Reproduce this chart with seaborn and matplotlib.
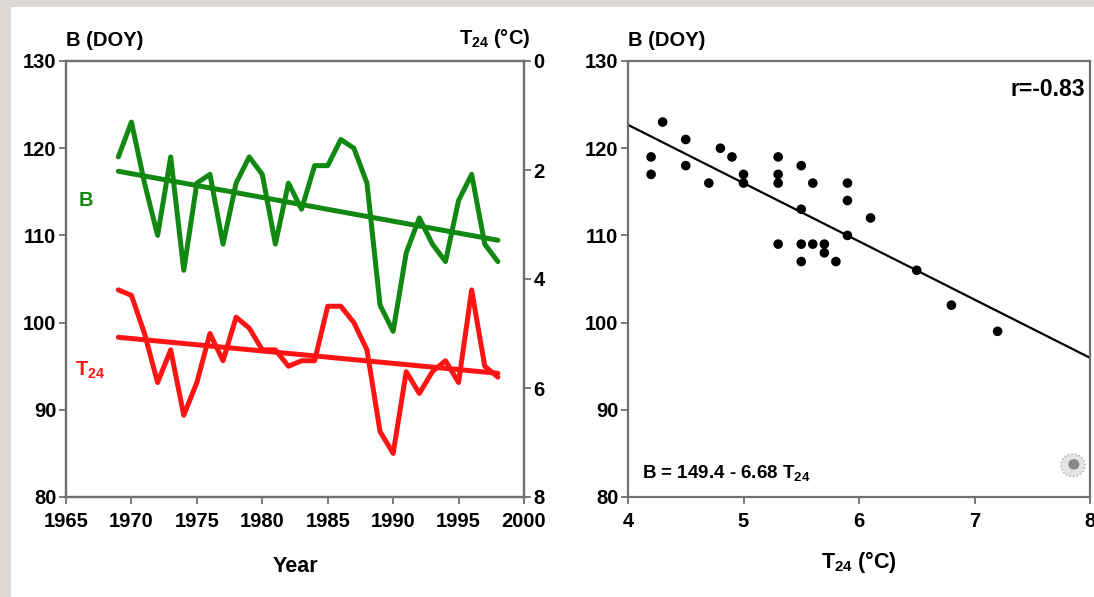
import numpy as np
import pandas as pd
import matplotlib
matplotlib.use("Agg")
import matplotlib.pyplot as plt
from matplotlib.patches import Rectangle, Circle
import seaborn as sns

# ---------------- data ----------------
years = list(range(1969, 1999))
bud_doy = [119, 123, 116, 110, 119, 106, 116, 117, 109, 116,
           119, 117, 109, 116, 113, 118, 118, 121, 120, 116,
           102, 99, 108, 112, 109, 107, 114, 117, 109, 107]
t24 = [4.2, 4.3, 5.0, 5.9, 5.3, 6.5, 5.9, 5.0, 5.5, 4.7,
       4.9, 5.3, 5.3, 5.6, 5.5, 5.5, 4.5, 4.5, 4.8, 5.3,
       6.8, 7.2, 5.7, 6.1, 5.7, 5.5, 5.9, 4.2, 5.6, 5.8]
fit_intercept = 149.4
fit_slope = -6.68
r_value = -0.83
year_ticks = [1965, 1970, 1975, 1980, 1985, 1990, 1995, 2000]
doy_ticks = [80, 90, 100, 110, 120, 130]
temp_ticks = [0, 2, 4, 6, 8]
t_ticks = [4, 5, 6, 7, 8]

df = pd.DataFrame({"year": years, "B": bud_doy, "T": t24})
fit_x = np.array([t_ticks[0], t_ticks[-1]], dtype=float)
fit_df = pd.DataFrame({"T": fit_x, "B": fit_intercept + fit_slope * fit_x})

# ---------------- style ----------------
sns.set_style("white")
plt.rcParams["font.family"] = ["Liberation Sans", "DejaVu Sans"]
plt.rcParams["font.weight"] = "bold"
plt.rcParams["text.color"] = "black"
plt.rcParams["axes.labelcolor"] = "black"
plt.rcParams["xtick.color"] = "black"
plt.rcParams["ytick.color"] = "black"
plt.rcParams["mathtext.fontset"] = "custom"
plt.rcParams["mathtext.rm"] = "Liberation Sans:bold"
plt.rcParams["mathtext.bf"] = "Liberation Sans:bold"
plt.rcParams["mathtext.it"] = "Liberation Sans:bold"

GREEN = "#118811"
RED = "#ff1414"
SPINE = "#707070"
FS = 14.5

W, H = 1094, 597
fig = plt.figure(figsize=(W / 100, H / 100), dpi=100, facecolor="#dcd8d4")
fig.patches.append(Rectangle((11 / W, 0), 1 - 11 / W, 1 - 7 / H,
                             transform=fig.transFigure, facecolor="white",
                             edgecolor="none", zorder=-10))

def frac(x0, y0, x1, y1):
    return [x0 / W, 1 - y1 / H, (x1 - x0) / W, (y1 - y0) / H]

ax1 = fig.add_axes(frac(66, 61, 524, 497))
ax2 = fig.add_axes(frac(628, 61, 1090, 497))

def style_axis(ax):
    for s in ax.spines.values():
        s.set_color(SPINE)
        s.set_linewidth(1.6)
    ax.tick_params(axis="both", which="both", direction="out", length=5,
                   width=1.3, color=SPINE, labelcolor="black",
                   labelsize=FS, left=True, bottom=True)
    ax.tick_params(axis="x", pad=6)
    ax.tick_params(axis="y", pad=2)
    for lab in ax.get_xticklabels() + ax.get_yticklabels():
        lab.set_fontweight("bold")

# ---------------- left panel ----------------
sns.lineplot(data=df, x="year", y="B", ax=ax1, color=GREEN, lw=3.6,
             legend=False)
sns.regplot(data=df, x="year", y="B", ax=ax1, scatter=False, ci=None,
            color=GREEN, line_kws={"lw": 3.6})
ax1.set_xlim(year_ticks[0], year_ticks[-1])
ax1.set_ylim(doy_ticks[0], doy_ticks[-1])
ax1.set_xticks(year_ticks)
ax1.set_yticks(doy_ticks)
ax1.set_xlabel("Year", fontsize=FS + 1, fontweight="bold", labelpad=18)
ax1.set_ylabel("")

ax1t = ax1.twinx()
sns.lineplot(data=df, x="year", y="T", ax=ax1t, color=RED, lw=3.6,
             legend=False)
sns.regplot(data=df, x="year", y="T", ax=ax1t, scatter=False, ci=None,
            color=RED, line_kws={"lw": 3.6})
ax1t.set_ylim(temp_ticks[-1], temp_ticks[0])
ax1t.set_yticks(temp_ticks)
ax1t.set_ylabel("")
ax1t.set_xlim(year_ticks[0], year_ticks[-1])
style_axis(ax1)
style_axis(ax1t)
ax1t.tick_params(axis="y", right=True, left=False, labelright=True,
                 labelleft=False)

ax1.text(0.0, 1.025, "B (DOY)", transform=ax1.transAxes, ha="left",
         va="bottom", fontsize=FS, fontweight="bold")
ax1.text(1.013, 1.025, r"$\mathregular{T_{24}}$ (°C)", transform=ax1.transAxes,
         ha="right", va="bottom", fontsize=FS, fontweight="bold")
ax1.text(0.028, 0.68, "B", transform=ax1.transAxes, color=GREEN,
         fontsize=FS, fontweight="bold", va="center")
ax1.text(0.02, 0.29, r"$\mathregular{T_{24}}$", transform=ax1.transAxes,
         color=RED, fontsize=FS, fontweight="bold", va="center")

# ---------------- right panel ----------------
sns.scatterplot(data=df, x="T", y="B", ax=ax2, color="black", s=48,
                edgecolor="none", legend=False, zorder=3)
sns.lineplot(data=fit_df, x="T", y="B", ax=ax2, color="black", lw=1.6,
             legend=False)
ax2.set_xlim(t_ticks[0], t_ticks[-1])
ax2.set_ylim(doy_ticks[0], doy_ticks[-1])
ax2.set_xticks(t_ticks)
ax2.set_yticks(doy_ticks)
ax2.set_xlabel(r"$\mathregular{T_{24}}$ (°C)", fontsize=FS + 1,
               fontweight="bold", labelpad=13)
ax2.set_ylabel("")
style_axis(ax2)
ax2.text(0.0, 1.025, "B (DOY)", transform=ax2.transAxes, ha="left",
         va="bottom", fontsize=FS, fontweight="bold")
ax2.text(0.99, 0.935, f"r={r_value:.2f}", transform=ax2.transAxes,
         ha="right", va="center", fontsize=FS + 2, fontweight="bold")
ax2.text(0.03, 0.055,
         f"B = {fit_intercept:.1f} - {abs(fit_slope):.2f} " + r"$\mathregular{T_{24}}$",
         transform=ax2.transAxes, ha="left", va="center", fontsize=FS - 1,
         fontweight="bold")
ax2.add_patch(Circle((0.963, 0.073), 0.026, transform=ax2.transAxes,
                     facecolor="#e4e4e4", edgecolor="#aaaaaa", lw=1.0,
                     ls=":", zorder=2))
ax2.add_patch(Circle((0.965, 0.075), 0.012, transform=ax2.transAxes,
                     facecolor="#606060", edgecolor="none", alpha=0.7,
                     zorder=2))

fig.savefig("out.png", dpi=100, facecolor=fig.get_facecolor())
